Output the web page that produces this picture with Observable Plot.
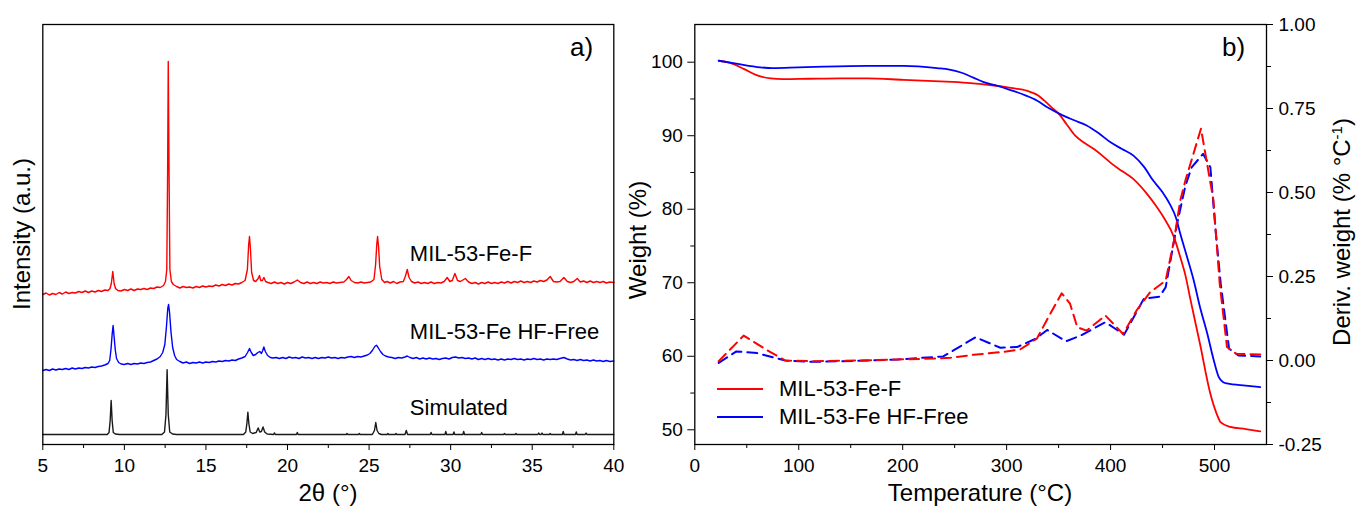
<!DOCTYPE html>
<html><head><meta charset="utf-8">
<script src="https://cdn.jsdelivr.net/npm/d3@7"></script>
<script src="https://cdn.jsdelivr.net/npm/@observablehq/plot@0.6"></script>
<style>
html,body{margin:0;padding:0;background:#fff;}
#wrap{position:relative;width:1356px;height:510px;font-family:"Liberation Sans",Arial,sans-serif;color:#000;overflow:hidden;}
.p{position:absolute;top:0;}
.t{position:absolute;white-space:nowrap;line-height:1;font-size:24px;transform:translate(-50%,-50%);}
.r{transform:translate(-50%,-50%) rotate(-90deg);}
.lab{position:absolute;white-space:nowrap;line-height:1;font-size:26px;}
.leg{position:absolute;display:flex;align-items:center;font-size:22px;white-space:nowrap;line-height:1;}
.leg span.sw{display:inline-block;width:46px;height:0;border-top:2px solid;margin-right:16px;}
</style></head>
<body>
<div id="wrap"></div>
<script>
// ---------- Panel a: XRD (intensity in arbitrary units, curves stacked) ----------
const xrdTicks = [5, 10, 15, 20, 25, 30, 35, 40];
const xrdMinor = [7.5, 12.5, 17.5, 22.5, 27.5, 32.5, 37.5];
const xrdNames = ["MIL-53-Fe-F", "MIL-53-Fe HF-Free", "Simulated"];
const xrdColors = ["#ff0000", "#0000ff", "#1a1a1a"];
const xrdLabelPos = [[27.5, 184], [27.5, 105.7], [27.5, 30]];

const xrdF = [[5.0,150],[5.2,151.5],[5.4,149.5],[5.6,151],[5.8,150],[6.0,152],[6.2,150.5],[6.4,152.5],[6.6,151],[6.8,152],[7.0,151.5],[7.2,153],[7.4,152],[7.6,153.5],[7.8,152],[8.0,153.5],[8.2,152.5],[8.4,154],[8.6,153],[8.8,154.5],[9.0,154],[9.12,156],[9.2,161],[9.29,173],[9.37,161],[9.46,156],[9.6,154],[9.8,153.5],[10.0,155],[10.2,154],[10.4,155.5],[10.6,154],[10.8,155.5],[11.0,155],[11.2,156],[11.4,155],[11.6,156.5],[11.8,156],[12.0,157.5],[12.2,157],[12.4,159],[12.52,163],[12.6,175],[12.65,270],[12.69,383],[12.74,270],[12.79,175],[12.88,163],[13.0,160],[13.2,158],[13.4,156.5],[13.6,158],[13.8,157],[14.0,157.5],[14.2,156.5],[14.4,158],[14.6,157],[14.8,158.5],[15.0,157.5],[15.2,158.5],[15.4,158],[15.6,159.5],[15.8,158.5],[16.0,160],[16.2,159],[16.4,160.5],[16.6,159.5],[16.8,161],[17.0,160.5],[17.2,162],[17.4,164],[17.54,175],[17.62,200],[17.67,208],[17.73,195],[17.8,172],[17.92,164],[18.05,163],[18.2,166],[18.28,169],[18.36,164],[18.46,164],[18.55,167],[18.66,163],[18.8,162],[19.0,161],[19.2,162.5],[19.4,161],[19.6,162],[19.8,160.5],[20.0,162],[20.2,161],[20.4,162.5],[20.6,164.5],[20.8,162],[21.0,161],[21.2,162.5],[21.4,161],[21.6,162],[21.8,161],[22.0,162.5],[22.2,161.5],[22.4,162],[22.6,161],[22.8,162.5],[23.0,161.5],[23.2,162],[23.45,162.5],[23.62,165],[23.76,168],[23.9,164],[24.1,162],[24.3,161.5],[24.5,162.5],[24.7,161.5],[24.9,162],[25.1,162.5],[25.3,165],[25.4,180],[25.47,200],[25.52,208],[25.58,198],[25.65,178],[25.78,165],[25.95,162],[26.1,163],[26.3,161.5],[26.5,163],[26.7,161],[26.9,162.5],[27.1,163],[27.22,168],[27.34,175],[27.45,167],[27.6,163],[27.8,161.5],[28.0,162.5],[28.2,161],[28.4,162],[28.6,161],[28.8,162.5],[29.0,161],[29.2,162],[29.4,161.5],[29.6,163],[29.79,167],[29.95,163],[30.1,164],[30.26,171],[30.42,164],[30.6,163],[30.9,166],[31.1,162.5],[31.3,161],[31.5,162],[31.7,160.5],[31.9,162],[32.1,161],[32.3,162.5],[32.5,161],[32.7,162],[32.9,161],[33.1,162.5],[33.3,161.5],[33.5,163],[33.7,161.5],[33.9,163],[34.1,162],[34.3,163.5],[34.5,162],[34.7,163],[34.9,162],[35.1,163.5],[35.3,162.5],[35.5,164],[35.7,163],[35.9,164.5],[36.1,168],[36.3,163],[36.5,162.5],[36.7,163],[36.94,167],[37.15,163],[37.35,162],[37.55,163],[37.76,166],[37.95,162.5],[38.15,163.5],[38.35,162],[38.55,163.5],[38.75,162],[38.95,163],[39.15,162],[39.35,163],[39.55,161.5],[39.75,162.5],[40.0,162]];

const xrdHF = [[5.0,74],[5.2,75],[5.4,74],[5.6,75.5],[5.8,74.5],[6.0,75.5],[6.2,75],[6.4,76],[6.6,75],[6.8,76.5],[7.0,75.5],[7.2,76.5],[7.4,76],[7.6,77],[7.8,76.5],[8.0,77.5],[8.2,77],[8.4,78],[8.6,78.5],[8.8,79.5],[9.0,81],[9.1,84],[9.18,95],[9.25,110],[9.31,119],[9.37,108],[9.44,95],[9.52,86],[9.65,82],[9.8,80.5],[10.0,80],[10.2,81],[10.4,80],[10.6,81],[10.8,80.5],[11.0,81.5],[11.2,81],[11.4,82],[11.6,82.5],[11.8,84],[12.0,85.5],[12.2,88],[12.35,92],[12.48,100],[12.58,118],[12.66,136],[12.71,140],[12.77,132],[12.86,112],[12.96,97],[13.08,89],[13.2,85],[13.4,83],[13.6,81.5],[13.8,82.5],[14.0,81],[14.2,82],[14.4,81.5],[14.6,82.5],[14.8,81.5],[15.0,82.5],[15.2,82],[15.4,83],[15.6,82.5],[15.8,83.5],[16.0,83],[16.2,84],[16.4,83.5],[16.6,84.5],[16.8,84],[17.0,85.5],[17.2,86.5],[17.4,88],[17.55,92],[17.67,96],[17.78,92],[17.9,89],[18.05,90],[18.18,92],[18.3,93],[18.4,91],[18.48,94],[18.55,97.6],[18.64,93],[18.78,89],[18.95,87],[19.1,86.5],[19.3,87],[19.5,86],[19.7,87],[19.9,86],[20.1,87.5],[20.3,86.5],[20.5,87],[20.7,86],[20.9,87.5],[21.1,86.5],[21.3,87],[21.5,86],[21.7,87],[21.9,86],[22.1,87],[22.3,86.5],[22.5,87.5],[22.7,86.5],[22.9,87],[23.1,86],[23.3,87],[23.5,86.5],[23.7,87.5],[23.9,88],[24.1,87],[24.3,88],[24.5,87.5],[24.7,88.5],[24.9,89.5],[25.05,91],[25.2,94],[25.35,98],[25.45,99.3],[25.55,97],[25.7,93],[25.85,90],[26.0,88.5],[26.2,87.5],[26.4,87],[26.6,86],[26.8,87],[27.0,86.5],[27.2,87.5],[27.34,88.5],[27.5,87],[27.7,86],[27.9,87],[28.1,85.5],[28.3,86.5],[28.5,85.5],[28.7,86.5],[28.9,85.5],[29.1,86],[29.3,85],[29.5,86],[29.7,86.5],[29.9,85.5],[30.1,87],[30.3,87.5],[30.5,86.5],[30.7,87],[30.9,86],[31.1,86.5],[31.3,85.5],[31.5,86.5],[31.7,85],[31.9,86],[32.1,85],[32.3,86],[32.5,85],[32.7,85.5],[32.9,84.5],[33.1,85.5],[33.3,84.5],[33.5,85.5],[33.7,85],[33.9,86],[34.1,85],[34.3,85.5],[34.5,84.5],[34.7,85.5],[34.9,85],[35.1,86],[35.3,85],[35.5,85.5],[35.7,84.5],[35.9,85.5],[36.1,85],[36.3,85.5],[36.5,85],[36.7,86],[36.94,87],[37.15,85.5],[37.35,84.5],[37.55,85],[37.75,84],[37.95,85],[38.15,84],[38.35,84.5],[38.55,83.5],[38.75,84.5],[38.95,83.5],[39.15,84],[39.35,83],[39.55,84],[39.75,83],[40.0,83.5]];

const xrdSim = [[5.0,10],[8.95,10],[9.06,12],[9.13,24],[9.19,44],[9.25,24],[9.32,12],[9.45,10.5],[9.7,10],[12.3,10],[12.46,12.5],[12.55,30],[12.62,74.7],[12.69,30],[12.78,12.5],[12.95,10.5],[13.2,10],[17.3,10],[17.44,12.5],[17.51,21],[17.57,32.3],[17.63,21],[17.71,12.5],[17.86,11],[18.08,12],[18.2,16.6],[18.3,12.5],[18.4,13],[18.5,17.6],[18.6,12.5],[18.75,10.5],[19.15,10],[19.2,11.6],[19.25,10],[20.55,10],[20.6,12],[20.65,10],[23.6,10],[23.65,11],[23.7,10],[24.35,10],[24.4,11],[24.45,10],[25.2,10],[25.33,14],[25.41,22],[25.49,14],[25.6,11],[25.75,10],[26.1,10],[26.15,11],[26.2,10],[26.6,10],[26.65,11],[26.7,10],[27.2,10],[27.28,14],[27.36,10],[28.75,10],[28.8,12],[28.85,10],[29.65,10],[29.7,13],[29.75,10],[30.15,10],[30.2,12.5],[30.25,10],[30.75,10],[30.8,13],[30.85,10],[31.85,10],[31.9,12],[31.95,10],[33.25,10],[33.3,11],[33.35,10],[33.95,10],[34.0,11],[34.05,10],[35.35,10],[35.4,11.5],[35.45,10],[35.55,10],[35.6,11.5],[35.65,10],[36.05,10],[36.1,11],[36.15,10],[36.85,10],[36.9,13],[36.95,10],[37.65,10],[37.7,12.5],[37.75,10],[38.25,10],[38.3,11.5],[38.35,10],[40.0,10]];

// ---------- Panel b: TGA (weight %) and DTG (% per °C) ----------
const tgaXTicks = [0, 100, 200, 300, 400, 500];
const tgaXMinor = [50, 150, 250, 350, 450];
const wTicks = [50, 60, 70, 80, 90, 100];
const wMinor = [55, 65, 75, 85, 95];
const dTicks = [-0.25, 0, 0.25, 0.5, 0.75, 1.0];
const dMinor = [-0.125, 0.125, 0.375, 0.625, 0.875];
const tgaNames = ["MIL-53-Fe-F", "MIL-53-Fe HF-Free"];
const tgaColors = ["#ff0000", "#0000ff"];

const tgaF = [[23,100.2],[34,99.9],[47,99.1],[60,98.2],[73,97.8],[85,97.7],[110,97.75],[140,97.8],[166,97.8],[201,97.6],[236,97.4],[262,97.2],[284,96.9],[304,96.5],[320,96.1],[330,95.5],[336,94.8],[343,93.9],[350,93.0],[358,91.5],[366,90.0],[375,89.0],[384,88.2],[392,87.3],[401,86.2],[411,85.2],[422,84.1],[435,82.1],[443,80.6],[451,78.9],[461,76.2],[467,73.5],[472,71.0],[477,67.6],[486,61.7],[496,54.9],[502,52.2],[506,51.0],[515,50.4],[530,50.1],[544,49.8]];

const tgaHF = [[23,100.2],[40,99.8],[63,99.3],[75,99.2],[100,99.3],[124,99.4],[166,99.5],[201,99.5],[233,99.2],[245,99.0],[256,98.6],[268,97.9],[278,97.3],[291,96.8],[304,96.2],[318,95.5],[329,94.8],[340,93.8],[352,92.9],[365,92.1],[377,91.4],[389,90.3],[400,89.1],[411,88.2],[422,87.3],[432,85.8],[441,83.9],[450,82.3],[457,80.7],[463,78.8],[467,76.7],[474,73.3],[480,70.3],[486,66.7],[493,63.1],[499,59.6],[504,57.2],[508,56.5],[512,56.3],[530,56.0],[544,55.8]];

const dtgF = [[23,-0.002],[47,0.074],[70,0.03],[87,0.0],[114,-0.002],[156,0.0],[195,0.003],[220,0.005],[246,0.008],[268,0.017],[295,0.025],[313,0.033],[329,0.065],[342,0.139],[353,0.2],[361,0.169],[368,0.099],[377,0.089],[395,0.134],[412,0.079],[425,0.149],[438,0.203],[453,0.238],[461,0.357],[467,0.476],[472,0.536],[487,0.69],[499,0.476],[505,0.228],[512,0.04],[521,0.02],[544,0.018]];

const dtgHF = [[23,-0.007],[40,0.027],[60,0.022],[87,0.0],[114,-0.004],[156,-0.001],[195,0.003],[239,0.012],[270,0.069],[294,0.038],[310,0.04],[328,0.065],[339,0.091],[357,0.057],[371,0.074],[395,0.114],[413,0.077],[432,0.184],[447,0.19],[453,0.218],[464,0.407],[472,0.52],[478,0.575],[489,0.615],[496,0.575],[501,0.387],[506,0.228],[514,0.035],[523,0.015],[544,0.012]];

// ---------- rendering ----------
const FONT = '"Liberation Sans", Arial, sans-serif';
const wrap = document.getElementById("wrap");
const H = 510, MT = 24, MB = 66;
const baseStyle = {fontFamily: FONT, fontSize: "19px", color: "#000", background: "transparent", overflow: "visible"};

function place(el, left) { el.classList.add("p"); el.style.left = left + "px"; wrap.appendChild(el); }
function html(cls, text, left, top, extra) {
  const d = document.createElement("div"); d.className = cls; d.innerHTML = text;
  d.style.left = left + "px"; d.style.top = top + "px"; if (extra) Object.assign(d.style, extra);
  wrap.appendChild(d); return d;
}

// Panel a
const xrdSeries = [xrdF, xrdHF, xrdSim];
const pa = Plot.plot({
  width: 620, height: H, marginLeft: 42.3, marginRight: 6.7, marginTop: MT, marginBottom: MB,
  style: baseStyle,
  x: {domain: [5, 40]},
  y: {domain: [0, 420], axis: null},
  marks: [
    ...xrdSeries.map((s, i) => Plot.line(s, {x: d => d[0], y: d => d[1], stroke: xrdColors[i], strokeWidth: 1.4})),
    Plot.text(xrdNames, {x: (d, i) => xrdLabelPos[i][0], y: (d, i) => xrdLabelPos[i][1], text: d => d, textAnchor: "start", lineAnchor: "bottom", fontSize: 22, fill: "#000"}),
    Plot.axisX({ticks: xrdTicks, tickSize: 6, tickPadding: 8, tickFormat: d => d, label: null, stroke: "#000"}),
    Plot.axisX({ticks: xrdMinor, tickSize: 4, tickFormat: () => "", label: null, stroke: "#000"}),
    Plot.frame({stroke: "#000", strokeWidth: 1.3})
  ]
});
place(pa, 0);

// Panel b (weight axis)
const PB_LEFT = 620, PB_W = 736, PB_ML = 74.3, PB_MR = 90;
const pb = Plot.plot({
  width: PB_W, height: H, marginLeft: PB_ML, marginRight: PB_MR, marginTop: MT, marginBottom: MB,
  style: baseStyle,
  x: {domain: [0, 550]},
  y: {domain: [48, 105.13]},
  marks: [
    ...[tgaF, tgaHF].map((s, i) => Plot.line(s, {x: d => d[0], y: d => d[1], stroke: tgaColors[i], strokeWidth: 1.8, curve: "monotone-x"})),
    Plot.axisX({ticks: tgaXTicks, tickSize: 6, tickPadding: 8, tickFormat: d => d, label: null, stroke: "#000"}),
    Plot.axisX({ticks: tgaXMinor, tickSize: 4, tickFormat: () => "", label: null, stroke: "#000"}),
    Plot.axisY({ticks: wTicks, tickSize: 7, tickPadding: 5, tickFormat: d => d, label: null, stroke: "#000"}),
    Plot.axisY({ticks: wMinor, tickSize: 4, tickFormat: () => "", label: null, stroke: "#000"}),
    Plot.frame({stroke: "#000", strokeWidth: 1.3})
  ]
});
place(pb, PB_LEFT);

// Panel b overlay (derivative axis, right)
const pc = Plot.plot({
  width: PB_W, height: H, marginLeft: PB_ML, marginRight: PB_MR, marginTop: MT, marginBottom: MB,
  style: baseStyle,
  x: {domain: [0, 550], axis: null},
  y: {domain: [-0.25, 1.0]},
  marks: [
    ...[dtgHF, dtgF].map((s, i) => Plot.line(s, {x: d => d[0], y: d => d[1], stroke: i === 0 ? tgaColors[1] : tgaColors[0], strokeWidth: 2, strokeDasharray: "10,6"})),
    Plot.axisY({anchor: "right", ticks: dTicks, tickSize: 6, tickPadding: 6, tickFormat: d => d.toFixed(2), label: null, stroke: "#000"}),
    Plot.axisY({anchor: "right", ticks: dMinor, tickSize: 4, tickFormat: () => "", label: null, stroke: "#000"})
  ]
});
place(pc, PB_LEFT);

// Titles and annotations
html("t r", "Intensity (a.u.)", 22, 234);
html("t", "2θ (°)", 328, 493);
html("t r", "Weight (%)", 638, 240);
html("t", "Temperature (°C)", 980, 493);
html("t r", "Deriv. weight (% °C<sup style='font-size:15px;vertical-align:8px'>-1</sup>)", 1341, 232);
html("lab", "a)", 570, 34);
html("lab", "b)", 1222, 34);

// Legend (panel b)
tgaNames.forEach((n, i) => {
  html("leg", `<span class="sw" style="border-color:${tgaColors[i]}"></span>${n}`, 717, 378 + i * 28);
});
</script>
</body></html>
